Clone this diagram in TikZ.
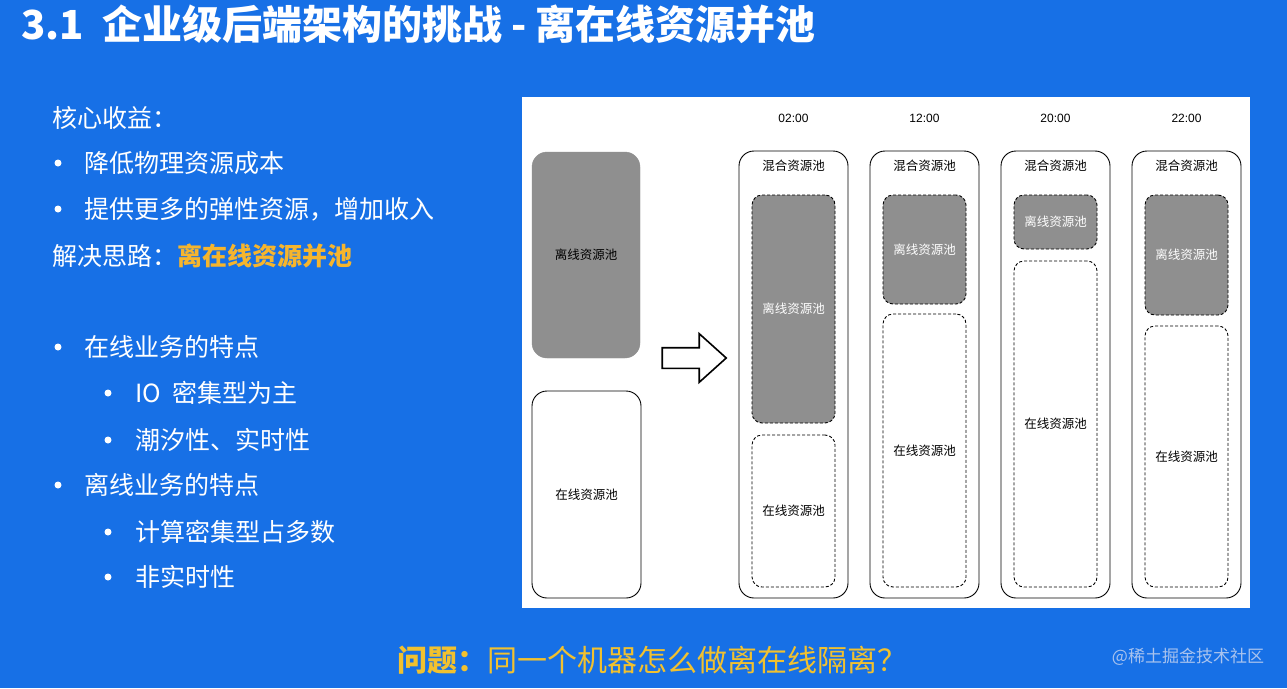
\documentclass[tikz,border=0pt]{standalone}
\usepackage{fontspec}
\setmainfont{Noto Sans CJK SC}
\newfontfamily\latinsf{Liberation Sans}
\usetikzlibrary{shapes.arrows}

\definecolor{slideblue}{HTML}{1770E6}
\definecolor{poolgray}{HTML}{8F8F8F}
\definecolor{hiorange}{HTML}{F6B52D}
\definecolor{askyellow}{HTML}{F1C12F}
\definecolor{markgray}{HTML}{A9C3EE}

\begin{document}
\begin{tikzpicture}[x=1pt,y=-1pt]
\tikzset{
  titletext/.style={anchor=west,inner sep=0pt,text=white,font=\fontsize{40}{44}\selectfont\bfseries},
  bodytext/.style={anchor=west,inner sep=0pt,text=white,font=\fontsize{25}{30}\selectfont},
  bulletdot/.style={circle,fill=white,inner sep=0pt,minimum size=7pt},
  asktext/.style={inner sep=0pt,text=askyellow,font=\fontsize{30}{34}\selectfont},
  marktext/.style={inner sep=0pt,text=markgray,font=\fontsize{17}{20}\selectfont},
  timelabel/.style={inner sep=0pt,font=\latinsf\fontsize{12}{14}\selectfont},
  poollabel/.style={inner sep=0pt,font=\fontsize{12.5}{14}\selectfont},
  offpool/.style={rounded corners=15pt,fill=poolgray,draw=poolgray,minimum width=108pt,font=\fontsize{12.5}{14}\selectfont},
  onpool/.style={rounded corners=15pt,draw=black,line width=0.9pt,fill=white,minimum width=109pt,font=\fontsize{12.5}{14}\selectfont},
  mixpool/.style={rounded corners=15pt,draw=black,line width=0.9pt,minimum width=109pt,minimum height=447pt},
  offpart/.style={rounded corners=10pt,draw=black,line width=0.9pt,dash pattern=on 3pt off 2pt,fill=poolgray,
    minimum width=83pt,text=white,font=\fontsize{12.5}{14}\selectfont},
  onpart/.style={rounded corners=10pt,draw=black,line width=0.9pt,dash pattern=on 3pt off 2pt,
    minimum width=83pt,font=\fontsize{12.5}{14}\selectfont},
  blockarrow/.style={single arrow,draw=black,line width=1.6pt,fill=white,inner sep=9.5pt,minimum height=64pt,
    single arrow head extend=14pt,single arrow tip angle=84}
}
% slide background and picture panel
\fill[slideblue] (0,0) rectangle (1287,688);
\fill[white] (522,97) rectangle (1250,608);

\node[titletext] (n_title) at (21,24) {3.1\ \ 企业级后端架构的挑战 - 离在线资源并池};

% left column text
\node[bodytext] (t_gain) at (52,118) {核心收益：};
\node[bulletdot] (b_cost) at (58,163) {};
\node[bodytext] (t_cost) at (84,163) {降低物理资源成本};
\node[bulletdot] (b_elastic) at (58,209) {};
\node[bodytext] (t_elastic) at (84,209) {提供更多的弹性资源，增加收入};
\node[bodytext] (t_idea) at (52,256) {解决思路：\textcolor{hiorange}{\bfseries 离在线资源并池}};
\node[bulletdot] (b_online) at (58,347) {};
\node[bodytext] (t_online) at (84,347) {在线业务的特点};
\node[bulletdot] (b_io) at (108,393) {};
\node[bodytext] (t_io) at (135,393) {IO\ \ 密集型为主};
\node[bulletdot] (b_tide) at (108,440) {};
\node[bodytext] (t_tide) at (135,440) {潮汐性、实时性};
\node[bulletdot] (b_offline) at (58,485) {};
\node[bodytext] (t_offline) at (84,485) {离线业务的特点};
\node[bulletdot] (b_calc) at (108,532) {};
\node[bodytext] (t_calc) at (135,532) {计算密集型占多数};
\node[bulletdot] (b_batch) at (108,577) {};
\node[bodytext] (t_batch) at (135,577) {非实时性};

% separate pools
\node[offpool,minimum height=206pt] (n_off) at (586,255) {离线资源池};
\node[onpool,minimum height=207pt] (n_on) at (586.5,494.5) {在线资源池};
\node[blockarrow] (n_arrow) at (688.5,358) {};

% mixed pools over the day
\node[timelabel] (h_02) at (793.5,118) {02:00};
\node[mixpool] (m_02) at (793.5,374.5) {};
\node[poollabel] (l_02) at (793.5,166) {混合资源池};
\node[offpart,minimum height=228pt] (off_02) at (793.5,309) {离线资源池};
\node[onpart,minimum height=152pt] (on_02) at (793.5,511) {在线资源池};

\node[timelabel] (h_12) at (924.5,118) {12:00};
\node[mixpool] (m_12) at (924.5,374.5) {};
\node[poollabel] (l_12) at (924.5,166) {混合资源池};
\node[offpart,minimum height=109pt] (off_12) at (924.5,249.5) {离线资源池};
\node[onpart,minimum height=273pt] (on_12) at (924.5,450.5) {在线资源池};

\node[timelabel] (h_20) at (1055.5,118) {20:00};
\node[mixpool] (m_20) at (1055.5,374.5) {};
\node[poollabel] (l_20) at (1055.5,166) {混合资源池};
\node[offpart,minimum height=54pt] (off_20) at (1055.5,222) {离线资源池};
\node[onpart,minimum height=326pt] (on_20) at (1055.5,424) {在线资源池};

\node[timelabel] (h_22) at (1186.5,118) {22:00};
\node[mixpool] (m_22) at (1186.5,374.5) {};
\node[poollabel] (l_22) at (1186.5,166) {混合资源池};
\node[offpart,minimum height=120pt] (off_22) at (1186.5,255) {离线资源池};
\node[onpart,minimum height=261pt] (on_22) at (1186.5,456.5) {在线资源池};

% bottom line
\node[asktext] (n_ask) at (652,660) {{\bfseries 问题：}同一个机器怎么做离在线隔离？};
\node[marktext] (n_mark) at (1188,657) {@稀土掘金技术社区};
\end{tikzpicture}
\end{document}
